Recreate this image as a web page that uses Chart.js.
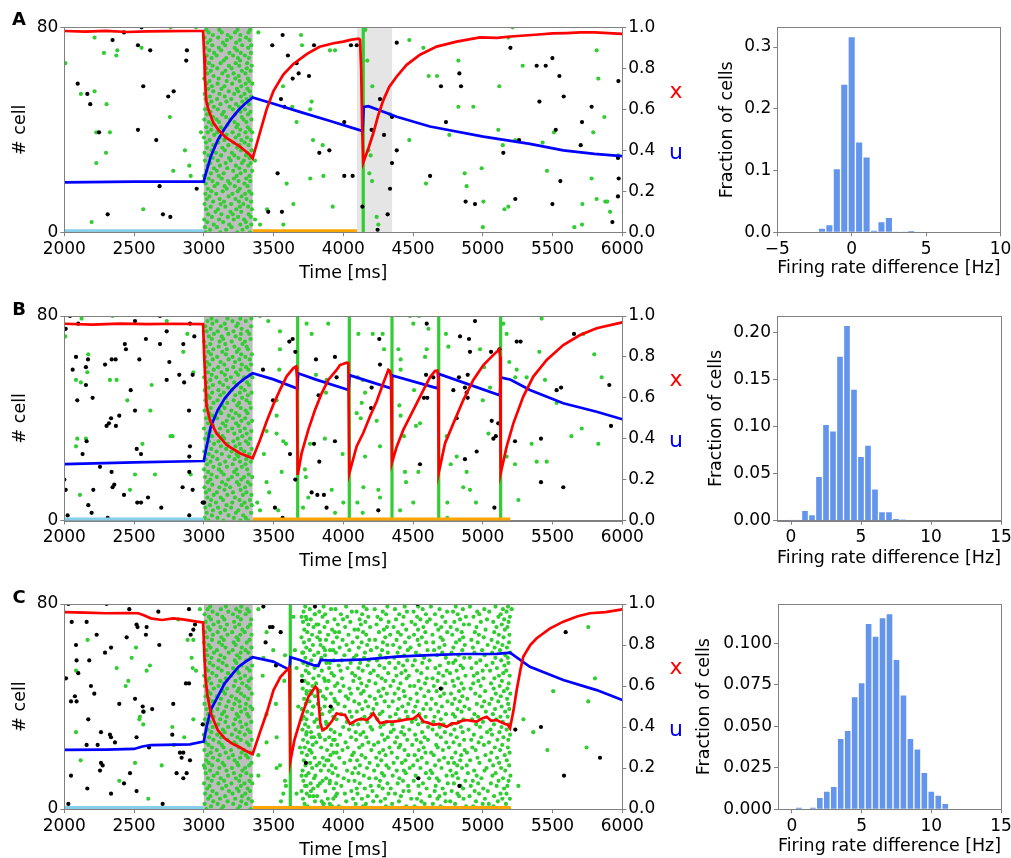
<!DOCTYPE html>
<html>
<head>
<meta charset="utf-8">
<script src="https://cdn.jsdelivr.net/npm/chart.js@4.4.1/dist/chart.umd.min.js"></script>
<style>
  body { margin: 0; background: #fff; }
  #fig { position: relative; width: 1011px; height: 858px; overflow: hidden; background: #fff; }
  #fig canvas { position: absolute; }
</style>
</head>
<body>
<div id="fig">
  <canvas id="rasterA" width="700" height="290" style="left:0;top:0"></canvas>
  <canvas id="rasterB" width="700" height="290" style="left:0;top:290px"></canvas>
  <canvas id="rasterC" width="700" height="290" style="left:0;top:578px"></canvas>
  <canvas id="histA" width="380" height="290" style="left:650px;top:0"></canvas>
  <canvas id="histB" width="380" height="290" style="left:650px;top:290px"></canvas>
  <canvas id="histC" width="380" height="290" style="left:650px;top:578px"></canvas>
</div>
<script>
// ---- shared ticks ----
const timeTicks = [2000, 2500, 3000, 3500, 4000, 4500, 5000, 5500, 6000];
const cellTicks = [0, 80];
const varTicks = [0, 0.2, 0.4, 0.6, 0.8, 1.0];

// ---- panel A ----
const stimSpanA = [3000, 3350];
const refractSpanA = [4098, 4350];
const baselineBarA = [2000, 3000];
const delayBarA = [3350, 4098];
const burstTimesA = [4143];
const xTraceA = [[2000,0.982],[2150,0.979],[2300,0.983],[2450,0.977],[2600,0.98],[2750,0.981],[2900,0.982],[2995,0.982],[3003,0.86],[3008,0.75],[3018,0.64],[3032,0.60],[3068,0.535],[3104,0.50],[3157,0.463],[3210,0.44],[3259,0.418],[3300,0.395],[3331,0.377],[3350,0.361],[3400,0.48],[3450,0.60],[3500,0.69],[3570,0.77],[3640,0.82],[3740,0.87],[3830,0.905],[3930,0.922],[4000,0.93],[4060,0.94],[4110,0.945],[4120,0.94],[4128,0.80],[4136,0.5],[4143,0.34],[4180,0.41],[4215,0.483],[4250,0.57],[4287,0.645],[4330,0.71],[4383,0.76],[4454,0.817],[4550,0.866],[4669,0.906],[4812,0.93],[4980,0.951],[5100,0.948],[5200,0.955],[5300,0.96],[5400,0.965],[5500,0.97],[5600,0.972],[5700,0.975],[5800,0.975],[5900,0.972],[6000,0.968]];
const uTraceA = [[2000,0.244],[2500,0.247],[2995,0.247],[3000,0.25],[3020,0.30],[3050,0.37],[3100,0.45],[3150,0.507],[3200,0.556],[3250,0.597],[3300,0.63],[3350,0.658],[3500,0.627],[3700,0.585],[3900,0.544],[4100,0.502],[4138,0.494],[4146,0.612],[4180,0.615],[4383,0.564],[4621,0.516],[5004,0.467],[5338,0.431],[5577,0.40],[5800,0.383],[6000,0.372]];
const blackSpikesA = [[2554,80],[2428,78],[2346,75],[2528,73],[2616,71],[2874,67],[2879,71],[2096,58],[2165,54],[2186,50],[2566,57],[2745,53],[2784,55],[2249,39],[2528,40],[2659,36],[2683,18],[2949,17],[2311,7],[2707,7],[2760,6],[3565,77],[3491,73],[3603,69],[3665,66],[3637,60],[3680,62],[3754,61],[3553,52],[3577,49],[3790,73],[3828,31],[3900,32],[3529,23],[3462,8],[3560,8],[4007,43],[4055,73],[4096,73],[4007,22],[4067,22],[4137,10],[4263,52],[4203,40],[4292,38],[4349,45],[4383,32],[4349,27],[4335,17],[4318,7],[4246,1],[4383,74],[4736,43],[4700,57],[4832,62],[4844,57],[4622,22],[4877,12],[4944,11],[5198,72],[5233,13],[5260,36],[5386,65],[5451,65],[5499,68],[5406,51],[5549,61],[5580,53],[5523,40],[5556,20],[5499,11],[5147,31],[5711,43],[5780,49],[5702,34],[5972,59],[5969,29],[5974,21],[5969,14],[5929,4]];
const greenSpikesA = [[2007,66],[2217,76],[2284,70],[2380,71],[2373,69],[2119,54],[2217,55],[2303,50],[2229,39],[2327,39],[2299,31],[2229,27],[2566,9],[2196,4],[2554,72],[2757,45],[2865,32],[2896,26],[2906,22],[2781,24],[2762,80],[2944,80],[2980,39],[3391,78],[3697,77],[3704,73],[3904,71],[3568,57],[3773,51],[3763,48],[3634,49],[3665,43],[3783,36],[3852,34],[3857,22],[3763,21],[3594,19],[3642,11],[3924,10],[3367,5],[3403,3],[3570,3],[3367,28],[3453,9],[3941,71],[4158,79],[4172,67],[4208,57],[4180,32],[4196,30],[4187,23],[4206,20],[4239,6],[4251,3],[4335,46],[4473,75],[4473,36],[4574,72],[4612,61],[4672,61],[4593,19],[4825,67],[4825,49],[4760,38],[4870,23],[4884,18],[4992,25],[4932,49],[5004,12],[5000,2],[5118,57],[5111,40],[5143,34],[5183,10],[5155,9],[5286,65],[5233,36],[5429,35],[5460,24],[5510,39],[5656,2],[5711,3],[5714,11],[5780,21],[5792,39],[5816,71],[5828,60],[5871,45],[5816,13],[5878,12],[5892,12],[5912,8],[5971,30],[5214,80],[5183,76]];
// spike times of each cell (row index = cell) during the stimulus
const stimTrainsA = [
[3012,3118,3240,3331],[3045,3160,3277],[3008,3094,3199,3310],[3071,3183,3262,3340],[3025,3139,3301],
[3003,3110,3215,3289],[3058,3172,3246,3337],[3031,3126,3208,3322],[3084,3191,3268],[3016,3102,3233,3345],
[3049,3154,3259,3318],[3006,3121,3196,3283],[3067,3145,3252,3339],[3022,3113,3227,3306],[3040,3178,3271],
[3011,3089,3205,3297,3342],[3054,3136,3243,3326],[3029,3165,3258],[3077,3149,3222,3314],[3014,3098,3187,3291],
[3062,3174,3249,3333],[3035,3128,3216,3304],[3002,3107,3236,3327],[3051,3142,3264],[3019,3093,3211,3296,3346],
[3073,3168,3255],[3027,3116,3230,3319],[3046,3157,3274,3336],[3009,3101,3193,3287],[3064,3181,3248,3328],
[3033,3124,3219,3302],[3005,3087,3201,3312],[3057,3151,3267,3343],[3024,3133,3239],[3069,3176,3256,3321],
[3015,3104,3213,3293],[3042,3147,3270,3338],[3001,3115,3228,3309],[3075,3163,3251],[3028,3096,3206,3299,3347],
[3053,3141,3261,3330],[3018,3122,3234,3315],[3060,3170,3244],[3036,3109,3220,3305],[3004,3091,3189,3285,3341],
[3066,3159,3272],[3023,3131,3225,3317],[3048,3144,3263,3334],[3010,3100,3209,3295],[3072,3185,3253],
[3030,3119,3231,3324],[3055,3162,3276],[3013,3095,3197,3307],[3044,3150,3266,3339],[3007,3112,3218,3292],
[3068,3179,3247,3329],[3032,3127,3237,3313],[3059,3148,3269],[3020,3099,3203,3300,3348],[3041,3164,3257,3325],
[3003,3106,3226,3316],[3070,3173,3250],[3026,3132,3214,3298],[3050,3155,3273,3335],[3016,3097,3200,3308],
[3063,3180,3254,3344],[3037,3120,3229,3311],[3008,3143,3260],[3056,3161,3245,3323],[3021,3092,3210,3294],
[3074,3184,3265,3337],[3039,3125,3238],[3012,3108,3221,3318],[3061,3153,3275,3340],[3027,3137,3232],
[3047,3166,3258,3327],[3006,3103,3194,3303],[3065,3171,3262],[3034,3129,3224,3320],[3019,3111,3242,3332]];

// ---- panel B ----
const stimSpanB = [3000, 3350];
const baselineBarB = [2000, 3000];
const delayBarB = [3350, 5197];
const burstTimesB = [3673, 4043, 4349, 4684, 5128];
const xTraceB = [[2000,0.962],[2200,0.958],[2400,0.963],[2600,0.96],[2800,0.962],[2995,0.96],[3003,0.80],[3010,0.70],[3020,0.56],[3044,0.49],[3092,0.426],[3164,0.369],[3259,0.329],[3350,0.304],[3403,0.394],[3450,0.484],[3498,0.566],[3546,0.639],[3594,0.705],[3642,0.745],[3661,0.753],[3668,0.70],[3673,0.222],[3701,0.328],[3749,0.443],[3797,0.54],[3845,0.622],[3892,0.687],[3952,0.736],[3976,0.76],[4024,0.772],[4036,0.77],[4043,0.231],[4096,0.363],[4143,0.428],[4191,0.509],[4239,0.582],[4287,0.672],[4323,0.737],[4335,0.731],[4342,0.70],[4349,0.283],[4383,0.361],[4430,0.443],[4478,0.508],[4526,0.573],[4574,0.638],[4621,0.70],[4657,0.731],[4674,0.733],[4680,0.70],[4684,0.233],[4729,0.377],[4789,0.475],[4860,0.589],[4932,0.687],[5004,0.76],[5076,0.81],[5119,0.837],[5124,0.80],[5128,0.231],[5171,0.361],[5219,0.475],[5290,0.606],[5362,0.704],[5458,0.785],[5577,0.858],[5697,0.907],[5816,0.94],[6000,0.969]];
const uTraceB = [[2000,0.276],[2500,0.284],[2995,0.291],[3000,0.292],[3020,0.361],[3050,0.459],[3100,0.54],[3150,0.597],[3200,0.638],[3250,0.671],[3300,0.698],[3350,0.72],[3500,0.69],[3670,0.645],[3676,0.72],[3800,0.69],[4038,0.638],[4044,0.711],[4343,0.646],[4350,0.709],[4678,0.646],[4685,0.717],[5122,0.612],[5129,0.70],[5200,0.688],[5338,0.638],[5577,0.573],[5816,0.532],[6000,0.495]];
const blackSpikesB = [[2024,2],[2010,75],[2041,80],[2686,80],[2100,77],[2507,78],[2442,67],[2434,69],[2585,71],[2686,69],[2734,74],[2853,69],[2901,77],[2932,72],[2084,64],[2060,59],[2155,60],[2170,63],[2155,53],[2093,47],[2203,48],[2292,61],[2340,63],[2368,63],[2476,51],[2538,63],[2753,62],[2734,55],[2824,57],[2859,54],[2920,57],[2335,40],[2303,37],[2370,37],[2394,41],[2320,38],[2507,43],[2894,43],[2131,26],[2160,31],[2550,26],[2519,28],[2901,29],[2896,25],[2256,21],[2339,19],[2358,14],[2346,13],[2208,12],[2010,12],[2428,10],[2523,7],[2550,7],[2600,9],[2695,5],[2848,13],[2920,12],[2896,19],[2992,7],[3001,7],[2172,6],[2196,3],[2311,1],[2896,2],[2000,16],[3424,59],[3496,47],[3613,70],[3637,71],[3656,66],[3618,26],[3656,16],[3510,5],[3565,1],[3804,63],[3823,49],[3790,30],[3828,23],[3773,11],[3814,10],[3861,10],[3880,5],[3940,64],[3940,31],[3952,56],[4258,71],[4263,61],[4203,52],[4199,44],[4598,77],[4593,57],[4578,48],[4602,48],[4550,22],[4645,56],[4837,72],[4901,71],[4908,66],[4892,57],[4829,56],[4789,51],[4813,40],[4884,50],[4892,48],[4872,52],[4956,27],[4872,24],[4944,78],[5059,66],[5119,67],[5064,39],[5111,38],[5076,32],[5093,33],[5083,5],[5243,70],[5271,70],[5231,31],[5654,73],[5529,51],[5561,52],[5417,32],[5417,15],[5577,13],[5907,53],[5919,37],[4251,4]];
const greenSpikesB = [[2007,72],[2172,65],[2165,58],[2119,54],[2084,55],[2327,55],[2375,55],[2626,53],[2452,47],[2617,43],[2155,32],[2084,29],[2093,32],[2560,30],[2762,33],[2776,33],[2112,10],[2507,18],[2471,12],[2650,18],[2906,18],[2734,78],[2882,73],[2853,66],[2124,79],[2346,80],[2925,58],[3403,80],[3462,78],[3546,67],[3541,59],[3522,47],[3450,35],[3522,41],[3522,34],[3431,26],[3450,15],[3469,11],[3383,7],[3403,4],[3570,31],[3589,30],[3558,19],[3534,4],[3725,20],[3732,17],[3749,9],[3711,5],[3761,30],[3868,32],[3880,55],[3876,50],[3892,77],[3804,57],[3737,77],[3773,73],[3546,74],[4108,73],[4103,56],[4139,55],[4096,42],[4125,40],[4132,46],[4156,50],[4156,25],[4144,13],[4101,7],[4139,3],[3995,26],[4000,7],[3941,3],[3917,12],[4211,73],[4282,73],[4292,67],[4239,39],[4263,29],[4251,12],[4263,9],[4395,67],[4411,63],[4411,59],[4402,45],[4411,41],[4435,33],[4442,19],[4450,15],[4407,4],[4502,7],[4538,19],[4521,37],[4550,38],[4507,51],[4598,67],[4586,64],[4610,75],[4502,77],[4545,80],[4478,80],[4736,73],[4753,68],[4741,33],[4770,22],[4746,7],[4746,1],[4813,25],[4860,13],[4884,19],[4951,7],[4908,12],[4980,67],[5009,60],[5052,52],[5040,34],[5000,47],[5147,77],[5171,73],[5190,62],[5243,59],[5233,56],[5171,25],[5231,22],[5255,8],[5314,56],[5350,30],[5386,23],[5405,66],[5446,55],[5458,23],[5529,46],[5635,33],[5709,36],[5828,30],[5799,65],[5852,56],[5721,73],[5422,79]];
const stimTrainsB = [
[3033,3141,3262,3318],[3007,3098,3215,3301],[3058,3177,3283],[3021,3119,3230,3339],[3066,3152,3247],
[3011,3102,3196,3309],[3044,3163,3271,3344],[3003,3087,3204,3292],[3052,3138,3256,3330],[3026,3121,3223],
[3071,3169,3280,3341],[3015,3094,3209,3305],[3039,3148,3264],[3005,3112,3189,3296],[3061,3158,3252,3334],
[3028,3131,3238,3315],[3047,3175,3269],[3009,3093,3201,3288,3347],[3056,3144,3241,3322],[3031,3126,3217],
[3002,3108,3234,3311],[3069,3166,3273],[3024,3115,3207,3299],[3048,3153,3259,3337],[3013,3097,3221,3304],
[3063,3182,3248],[3035,3129,3235,3325],[3004,3091,3199,3290],[3054,3160,3266,3343],[3019,3123,3227],
[3074,3171,3257,3319],[3037,3106,3212,3302],[3010,3146,3243,3331],[3059,3134,3276],[3025,3101,3219,3308],
[3045,3172,3261,3340],[3001,3117,3203,3294],[3067,3155,3250],[3030,3136,3232,3321],[3053,3164,3270,3346],
[3017,3095,3208,3297],[3062,3179,3254],[3038,3124,3229,3313],[3006,3111,3198,3300],[3050,3149,3265,3336],
[3022,3132,3240],[3070,3168,3253,3328],[3012,3099,3214,3306],[3043,3157,3274],[3027,3118,3226,3316],
[3060,3143,3258,3342],[3008,3105,3202,3293],[3034,3174,3267],[3065,3139,3236,3324],[3018,3114,3218,3310],
[3047,3162,3279],[3003,3090,3195,3289,3348],[3057,3151,3246,3333],[3029,3127,3231],[3072,3167,3263,3320],
[3014,3103,3211,3303],[3040,3147,3272,3338],[3023,3120,3224],[3064,3178,3255,3329],[3009,3096,3206,3298],
[3051,3159,3268,3344],[3032,3133,3237],[3068,3165,3251,3317],[3016,3107,3220,3307],[3046,3154,3277],
[3002,3113,3200,3295],[3058,3140,3260,3335],[3036,3128,3228],[3073,3176,3266,3326],[3020,3100,3213,3312],
[3049,3161,3271],[3011,3122,3233,3339],[3062,3150,3244],[3026,3092,3205,3301],[3055,3170,3262,3341]];

// ---- panel C ----
const stimSpanC = [3000, 3350];
const baselineBarC = [2000, 3000];
const delayBarC = [3350, 5200];
const burstTimesC = [3620];
const xTraceC = [[2000,0.96],[2150,0.958],[2300,0.955],[2450,0.956],[2530,0.955],[2570,0.945],[2620,0.93],[2700,0.922],[2780,0.93],[2850,0.925],[2950,0.914],[2995,0.91],[3004,0.75],[3012,0.64],[3025,0.56],[3050,0.467],[3100,0.385],[3150,0.345],[3200,0.32],[3250,0.304],[3300,0.284],[3350,0.268],[3400,0.369],[3450,0.467],[3500,0.58],[3550,0.645],[3600,0.681],[3612,0.69],[3616,0.5],[3620,0.231],[3650,0.337],[3700,0.45],[3750,0.548],[3800,0.597],[3815,0.585],[3835,0.42],[3850,0.385],[3880,0.395],[3920,0.43],[3952,0.467],[3985,0.46],[4012,0.459],[4048,0.415],[4096,0.434],[4130,0.44],[4167,0.434],[4195,0.45],[4215,0.467],[4240,0.44],[4263,0.418],[4310,0.426],[4359,0.426],[4400,0.43],[4454,0.437],[4500,0.44],[4538,0.459],[4574,0.426],[4610,0.42],[4645,0.41],[4690,0.415],[4741,0.401],[4780,0.418],[4813,0.418],[4850,0.43],[4884,0.434],[4920,0.43],[4956,0.426],[4990,0.44],[5028,0.45],[5060,0.43],[5099,0.434],[5147,0.418],[5180,0.41],[5195,0.394],[5220,0.48],[5243,0.58],[5270,0.68],[5290,0.743],[5340,0.80],[5386,0.833],[5480,0.88],[5577,0.914],[5680,0.94],[5768,0.955],[5880,0.96],[6000,0.974]];
const uTraceC = [[2000,0.288],[2300,0.29],[2500,0.293],[2560,0.305],[2620,0.312],[2900,0.315],[2990,0.328],[3000,0.33],[3020,0.401],[3050,0.483],[3100,0.548],[3150,0.613],[3200,0.654],[3250,0.694],[3300,0.719],[3350,0.74],[3498,0.719],[3594,0.686],[3614,0.68],[3621,0.74],[3689,0.727],[3785,0.702],[3821,0.698],[3838,0.727],[3928,0.724],[4163,0.73],[4383,0.743],[4621,0.751],[4860,0.756],[5099,0.757],[5195,0.763],[5338,0.694],[5577,0.629],[5816,0.58],[6000,0.532]];
const blackSpikesC = [[2029,80],[2303,80],[2466,78],[2674,77],[2894,78],[2053,73],[2160,73],[2518,72],[2525,71],[2590,71],[2585,68],[2447,67],[2681,64],[2925,70],[2937,72],[2906,68],[2084,64],[2088,58],[2100,53],[2179,58],[2232,68],[2292,61],[2335,63],[2012,51],[2191,48],[2215,45],[2076,44],[2088,42],[2048,42],[2172,35],[2263,30],[2327,29],[2335,28],[2363,26],[2160,25],[2239,25],[2394,41],[2507,43],[2562,40],[2566,38],[2630,39],[2781,41],[2774,29],[2518,28],[2607,24],[2872,49],[2894,49],[2992,33],[2829,22],[2853,22],[2841,20],[2901,19],[2853,12],[2805,14],[2877,14],[2471,14],[2428,10],[2263,18],[2256,15],[2275,17],[2048,13],[2165,8],[2335,6],[2518,7],[2705,2],[2029,2],[3427,79],[3474,71],[3493,71],[3551,69],[3443,65],[3517,56],[3704,50],[3909,40],[3732,18],[3797,79],[4531,80],[4698,47],[4538,12],[4832,9],[5233,31],[5417,32],[5594,69],[5840,20],[5582,13]];
const greenSpikesC = [[2084,54],[2167,66],[2375,55],[2459,50],[2440,48],[2590,54],[2614,56],[2920,55],[2944,54],[2774,32],[2786,25],[2860,28],[2925,66],[2913,59],[2514,63],[2542,36],[2566,33],[2507,18],[2394,11],[2602,4],[2117,19],[2084,30],[2972,78],[2884,66],[2817,74],[3001,17],[2698,17],[2925,35],[2483,59],[2571,38],[2538,35],[3391,78],[3427,59],[3450,69],[3498,62],[3422,52],[3517,41],[3522,28],[3450,26],[3391,21],[3391,13],[3522,16],[3546,17],[3582,11],[3589,9],[3553,3],[3570,6],[3582,60],[3577,50],[3450,37],[3642,75],[3701,75],[3737,74],[3797,76],[3821,72],[3653,62],[3713,61],[3665,55],[3737,46],[3773,45],[3785,40],[3833,46],[3869,50],[3904,57],[3928,62],[3677,40],[3701,35],[3737,30],[3773,28],[3689,24],[3761,23],[3833,28],[3880,33],[3928,27],[3952,22],[3880,19],[3904,11],[3833,10],[3737,9],[3701,13],[3785,5],[3856,2],[3928,4],[3665,6],[3809,17],[3869,62],[3940,69],[3833,66],[5291,35],[5362,30],[5463,23],[5505,46],[5756,71],[5804,51],[5756,42],[5744,24],[5255,9],[5207,78]];
const stimTrainsC = [
[3019,3127,3244,3336],[3052,3140,3258],[3006,3099,3211,3303],[3068,3171,3269,3345],[3031,3116,3225,3320],
[3047,3153,3274],[3010,3092,3206,3298],[3063,3180,3250,3331],[3024,3131,3237,3314],[3041,3160,3266],
[3002,3105,3198,3292,3347],[3056,3145,3254,3327],[3029,3121,3230],[3071,3174,3262,3339],[3014,3097,3216,3306],
[3045,3163,3277],[3008,3111,3202,3296],[3060,3148,3247,3325],[3035,3134,3239,3342],[3017,3101,3221],
[3066,3178,3260,3317],[3025,3114,3208,3301],[3050,3157,3271,3337],[3004,3093,3195,3289],[3058,3142,3252],
[3033,3129,3234,3324],[3012,3109,3218,3309],[3069,3169,3265,3343],[3038,3125,3241],[3001,3096,3201,3294],
[3054,3150,3256,3332],[3027,3137,3228,3315],[3064,3175,3273],[3016,3103,3213,3304],[3043,3155,3261,3340],
[3009,3118,3226],[3070,3165,3249,3322],[3032,3130,3236,3311],[3057,3146,3268],[3020,3098,3204,3297,3348],
[3046,3161,3259,3334],[3005,3112,3219,3302],[3062,3177,3255],[3036,3123,3231,3318],[3013,3094,3199,3291],
[3049,3152,3267,3344],[3028,3138,3242],[3072,3167,3253,3326],[3007,3106,3215,3307],[3053,3144,3275],
[3022,3117,3227,3321],[3039,3158,3263,3338],[3003,3091,3197,3295],[3061,3173,3251],[3030,3128,3240,3329],
[3015,3102,3210,3310],[3067,3164,3270,3346],[3042,3135,3233],[3011,3107,3222,3305],[3055,3149,3257,3335],
[3026,3120,3238],[3073,3179,3264,3319],[3018,3095,3207,3299],[3048,3156,3272,3341],[3034,3132,3229],
[3002,3110,3214,3308],[3059,3143,3248,3328],[3023,3126,3235],[3065,3170,3261,3342],[3009,3100,3203,3293],
[3044,3151,3276],[3031,3119,3224,3316],[3070,3166,3254,3333],[3014,3104,3217],[3051,3147,3266,3339],
[3037,3133,3243],[3006,3097,3209,3300],[3063,3176,3258,3324],[3027,3122,3232,3312],[3046,3159,3268]];
// sustained activity after the second burst in C (row index = cell)
const sustainedTrainsC = [
[3706,3781,3990,4052,4230,4377,4419,4608,4745,4790,4982,5120,5188],[3744,3920,3968,4141,4305,4452,4511,4697,4880,4931,5077],
[3722,3860,3903,4089,4162,4350,4583,4642,4801,4999,5043,5166],[3797,3845,4021,4215,4268,4399,4560,4733,4766,4951,5108],
[3711,3889,4070,4133,4299,4487,4528,4675,4862,5015,5140,5194],[3759,3812,3944,4176,4240,4413,4620,4689,4830,4905,5081],
[3738,3955,4011,4102,4324,4371,4548,4729,4818,4973,5127,5170],[3701,3768,3871,4058,4209,4431,4470,4655,4777,4942,5036],
[3785,3932,4096,4154,4282,4340,4597,4712,4859,5003,5152],[3726,3818,3986,4197,4255,4465,4539,4662,4841,4914,5099,5176],
[3766,3902,3949,4118,4317,4390,4571,4749,4793,4967,5058],[3714,3852,4038,4081,4263,4428,4505,4685,4875,4928,5113,5185],
[3790,3877,4003,4186,4234,4402,4616,4671,4822,4990,5145],[3733,3800,3961,4147,4292,4354,4519,4740,4783,4956,5069,5198],
[3751,3923,4065,4109,4277,4448,4592,4637,4809,4893,5092],[3708,3839,3896,4027,4221,4383,4434,4625,4768,4938,5012,5161],
[3777,3945,4084,4170,4326,4476,4553,4704,4851,5027,5131],[3729,3864,3918,4119,4247,4309,4501,4658,4817,4885,5074,5189],
[3762,3829,4007,4188,4361,4420,4599,4752,4794,4976,5117],[3717,3893,4049,4099,4272,4445,4532,4686,4838,4909,5050,5172],
[3795,3853,3971,4158,4236,4387,4562,4723,4778,4962,5102],[3740,3908,4063,4131,4303,4466,4512,4648,4845,5019,5157],
[3703,3773,3930,4076,4259,4347,4589,4630,4804,4887,5061,5192],[3756,3884,3994,4201,4285,4439,4541,4714,4870,4948,5124],
[3724,3841,4032,4114,4331,4398,4576,4677,4757,4925,5086,5180],[3781,3915,3957,4137,4220,4409,4494,4666,4833,5008,5139],
[3745,3806,4016,4180,4250,4371,4556,4738,4790,4970,5044],[3712,3869,3939,4092,4296,4458,4525,4607,4866,4917,5105,5183],
[3789,3899,4056,4165,4319,4385,4583,4699,4813,4989,5148],[3734,3826,3977,4123,4278,4437,4515,4671,4771,4936,5066,5195],
[3769,3937,4089,4144,4341,4415,4565,4728,4856,5031,5119],[3707,3858,3910,4041,4207,4362,4473,4640,4797,4898,5055,5171],
[3750,3820,3999,4195,4266,4427,4608,4691,4843,4980,5134],[3726,3890,4068,4107,4289,4350,4537,4719,4775,4952,5080,5187],
[3793,3875,4025,4172,4310,4492,4567,4646,4827,5001,5143],[3736,3810,3951,4126,4244,4403,4519,4700,4861,4923,5096],
[3716,3928,4060,4152,4335,4461,4590,4654,4801,4966,5126,5178],[3774,3849,3984,4202,4261,4376,4545,4736,4786,4940,5072],
[3741,3902,4046,4097,4281,4449,4503,4681,4848,5022,5160],[3702,3835,3922,4136,4215,4391,4573,4626,4818,4903,5088,5190],
[3784,3866,4010,4178,4326,4423,4517,4707,4869,4994,5135],[3730,3818,3963,4113,4239,4466,4595,4664,4780,4957,5047,5182],
[3758,3943,4079,4160,4297,4354,4532,4747,4835,5010,5111],[3719,3873,3936,4035,4226,4400,4481,4633,4799,4889,5064,5174],
[3798,3855,4018,4190,4270,4441,4581,4695,4853,4979,5129],[3737,3912,4055,4127,4312,4368,4526,4722,4772,4946,5093,5197],
[3765,3830,3975,4146,4253,4433,4611,4669,4830,5017,5151],[3709,3882,4044,4104,4287,4395,4555,4706,4863,4913,5078,5176],
[3779,3940,4001,4168,4338,4478,4509,4649,4795,4985,5121],[3747,3805,3958,4129,4231,4410,4586,4731,4847,4931,5059,5186],
[3723,3895,4072,4185,4302,4359,4540,4676,4784,4968,5137],[3786,3862,3991,4116,4275,4454,4598,4640,4823,5005,5083],
[3704,3824,3933,4085,4248,4381,4470,4716,4876,4935,5116,5193],[3753,3916,4064,4194,4322,4417,4559,4683,4765,4960,5147],
[3731,3846,3981,4139,4218,4446,4528,4741,4812,4999,5052,5168],[3794,3898,4030,4109,4294,4373,4602,4660,4858,4919,5101],
[3743,3812,3967,4175,4259,4429,4498,4692,4841,5026,5155],[3713,3879,4052,4121,4330,4397,4566,4754,4788,4953,5070,5184],
[3770,3931,3989,4183,4241,4458,4513,4618,4804,4982,5132],[3728,3843,4075,4149,4306,4366,4579,4735,4867,4907,5090,5179],
[3791,3869,4008,4094,4264,4436,4549,4672,4826,5013,5162],[3706,3820,3946,4155,4319,4389,4521,4709,4776,4940,5067,5196],
[3761,3905,4043,4198,4278,4462,4604,4651,4853,4995,5123],[3735,3858,3974,4111,4240,4405,4482,4688,4789,4929,5085,5173],
[3782,3837,4023,4171,4315,4357,4544,4726,4871,5035,5141],[3718,3926,4067,4132,4284,4443,4594,4645,4808,4964,5107,5188],
[3755,3876,3995,4187,4228,4382,4533,4713,4834,4918,5063],[3700,3814,3954,4100,4301,4471,4563,4697,4859,5007,5149],
[3776,3891,4037,4164,4336,4412,4507,4639,4781,4972,5115,5191],[3742,3831,3970,4142,4256,4392,4588,4745,4849,4943,5082],
[3720,3920,4080,4106,4291,4451,4536,4681,4815,5020,5158],[3787,3865,4013,4192,4313,4361,4574,4702,4770,4955,5098,5177],
[3749,3808,3961,4126,4238,4425,4515,4663,4864,4901,5136],[3711,3886,4050,4158,4325,4489,4600,4732,4796,4986,5075,5185],
[3767,3937,3998,4117,4269,4378,4552,4620,4837,5030,5153],[3732,3851,4028,4179,4245,4432,4529,4709,4879,4933,5112,5194],
[3796,3870,3983,4135,4307,4401,4592,4657,4820,4975,5128],[3715,3828,4061,4095,4283,4456,4504,4744,4787,4960,5046,5170],
[3760,3912,3944,4167,4225,4370,4569,4690,4857,5011,5144],[3727,3859,4020,4145,4316,4440,4537,4628,4806,4908,5091,5181]];

// ---- histograms (bin centres, fraction of cells) ----
const histCentersA = [-2.0,-1.5,-1.0,-0.5,0.0,0.5,1.0,1.5,2.0,2.5,3.0,3.5,4.0];
const histFracA = [0.007,0.0124,0.103,0.240,0.317,0.1465,0.1223,0.0032,0.0172,0.0242,0.0008,0.0008,0.002];
const histXTicksA = [-5, 0, 5, 10];
const histYTicksA = [0, 0.1, 0.2, 0.3];
const histCentersB = [0.0,0.5,1.0,1.5,2.0,2.5,3.0,3.5,4.0,4.5,5.0,5.5,6.0,6.5,7.0,7.5,8.0];
const histFracB = [0.0007,0.0007,0.011,0.0064,0.0472,0.1025,0.0957,0.1752,0.2078,0.1401,0.0684,0.0805,0.034,0.0096,0.0096,0.0025,0.0011];
const histXTicksB = [0, 5, 10, 15];
const histYTicksB = [0, 0.05, 0.10, 0.15, 0.20];
const histCentersC = [0.5,1.0,1.5,2.0,2.5,3.0,3.5,4.0,4.5,5.0,5.5,6.0,6.5,7.0,7.5,8.0,8.5,9.0,9.5,10.0,10.5,11.0];
const histFracC = [0.0012,0,0.0012,0.0072,0.011,0.0139,0.0428,0.0476,0.0679,0.0763,0.112,0.1044,0.1155,0.118,0.0904,0.069,0.0428,0.0365,0.0223,0.011,0.0086,0.0036];
const histXTicksC = [0, 5, 10, 15];
const histYTicksC = [0, 0.025, 0.05, 0.075, 0.1];

// ---- styling ----
const FAMILY = '"DejaVu Sans", "Liberation Sans", sans-serif';
const GRAY = '#808080';
const GREEN = '#32cd32';
const SKY = '#87ceeb';
const ORANGE = '#ffa500';
const BAR_BLUE = '#6495ed';
const DOT = 2.1;

Chart.defaults.font.family = FAMILY;
Chart.defaults.color = '#000';

const grid = { drawOnChartArea: false, drawTicks: true, tickLength: 4, color: GRAY, lineWidth: 1 };
const border = { display: true, color: GRAY, width: 1 };
const tickFont = { family: FAMILY, size: 17 };
const titleFont = { family: FAMILY, size: 17.5 };

function setTicks(values) {
  return scale => { scale.ticks = values.map(v => ({ value: v })); };
}
function pairsToXY(pairs) {
  return pairs.map(([x, y]) => ({ x, y }));
}
function trainsToXY(trains) {
  const pts = [];
  trains.forEach((times, cell) => times.forEach(t => pts.push({ x: t, y: cell })));
  return pts;
}
function minusSign(v) {
  return v < 0 ? '\u2212' + Math.abs(v) : String(v);
}

const shadePlugin = {
  id: 'shade',
  beforeDatasetsDraw(chart, args, opts) {
    const { ctx, chartArea: a, scales: { x } } = chart;
    ctx.save();
    for (const [span, color] of opts.spans || []) {
      const x0 = x.getPixelForValue(span[0]);
      const x1 = x.getPixelForValue(span[1]);
      ctx.fillStyle = color;
      ctx.fillRect(x0, a.top, x1 - x0, a.bottom - a.top);
    }
    ctx.restore();
  }
};

const framePlugin = {
  id: 'frame',
  afterDraw(chart) {
    const { ctx, chartArea: a } = chart;
    ctx.save();
    ctx.strokeStyle = GRAY;
    ctx.lineWidth = 1;
    ctx.strokeRect(Math.round(a.left) + 0.5, Math.round(a.top) + 0.5,
      Math.round(a.right - a.left), Math.round(a.bottom - a.top));
    ctx.restore();
  }
};

const annotatePlugin = {
  id: 'annotate',
  afterDraw(chart, args, opts) {
    const { ctx } = chart;
    ctx.save();
    ctx.textAlign = 'center';
    ctx.textBaseline = 'middle';
    if (opts.letter) {
      ctx.font = 'bold 18px ' + FAMILY;
      ctx.fillStyle = '#000';
      ctx.fillText(opts.letter, 19, opts.letterY);
    }
    if (opts.varLabels) {
      const yv = chart.scales.yVar;
      ctx.font = '22px ' + FAMILY;
      ctx.fillStyle = '#ff0000';
      ctx.fillText('x', 676, yv.getPixelForValue(0.685));
      ctx.fillStyle = '#0000ff';
      ctx.fillText('u', 676, yv.getPixelForValue(0.385));
    }
    ctx.restore();
  }
};

function trace(pairs, color) {
  return { data: pairsToXY(pairs), yAxisID: 'yVar', showLine: true, borderColor: color,
    borderWidth: 2.7, pointRadius: 0, tension: 0, order: 0 };
}
function bottomBar(span, color) {
  return { data: [{ x: span[0], y: 0 }, { x: span[1], y: 0 }], yAxisID: 'yCell', showLine: true,
    borderColor: color, borderWidth: 6, pointRadius: 0, clip: 0, order: 1 };
}
function burstLine(t) {
  return { data: [{ x: t, y: 0 }, { x: t, y: 80 }], yAxisID: 'yCell', showLine: true,
    borderColor: GREEN, borderWidth: 3.2, pointRadius: 0, clip: 0, order: 3 };
}
function dots(points, color, order) {
  return { data: points, yAxisID: 'yCell', showLine: false, pointRadius: DOT,
    pointBackgroundColor: color, pointBorderWidth: 0, clip: 0, order };
}

function buildRaster(id, p) {
  let greenPts = pairsToXY(p.green);
  for (const trains of p.trains) greenPts = greenPts.concat(trainsToXY(trains));
  const datasets = [
    trace(p.xTrace, '#ff0000'),
    trace(p.uTrace, '#0000ff'),
    bottomBar(p.baseline, SKY),
    bottomBar(p.delay, ORANGE),
    dots(pairsToXY(p.black), '#000000', 2),
    ...p.bursts.map(burstLine),
    dots(greenPts, GREEN, 4)
  ];
  new Chart(document.getElementById(id), {
    type: 'scatter',
    data: { datasets },
    options: {
      responsive: false, animation: false, devicePixelRatio: 1,
      layout: { padding: p.pad },
      plugins: {
        legend: { display: false }, tooltip: { enabled: false },
        shade: { spans: p.spans },
        annotate: { letter: p.letter, letterY: 20, varLabels: true }
      },
      scales: {
        x: {
          type: 'linear', min: 2000, max: 6000,
          afterBuildTicks: setTicks(timeTicks),
          afterFit: s => { s.height = p.xh; },
          grid, border,
          ticks: { font: tickFont, color: '#000', padding: 3, autoSkip: false, maxRotation: 0, callback: v => String(v) },
          title: { display: true, text: 'Time [ms]', color: '#000', font: titleFont }
        },
        yCell: {
          type: 'linear', position: 'left', min: 0, max: 80,
          afterBuildTicks: setTicks(cellTicks),
          afterFit: s => { s.width = 58.1; },
          grid, border,
          ticks: { font: tickFont, color: '#000', padding: 2, callback: v => String(v) },
          title: { display: true, text: '# cell', color: '#000', font: titleFont }
        },
        yVar: {
          type: 'linear', position: 'right', min: 0, max: 1,
          afterBuildTicks: setTicks(varTicks),
          afterFit: s => { s.width = 77.7; },
          grid, border,
          ticks: { font: tickFont, color: '#000', padding: 2, callback: v => v.toFixed(1) }
        }
      }
    },
    plugins: [shadePlugin, framePlugin, annotatePlugin]
  });
}

function buildHist(id, p) {
  const data = p.centers.map((c, i) => ({ x: c, y: p.fracs[i] })).filter(d => d.y > 0);
  new Chart(document.getElementById(id), {
    type: 'bar',
    data: {
      datasets: [{
        data, backgroundColor: BAR_BLUE, borderColor: 'rgba(255,255,255,0.6)', borderWidth: 1,
        barPercentage: 1, categoryPercentage: 1, grouped: false
      }]
    },
    options: {
      responsive: false, animation: false, devicePixelRatio: 1,
      layout: { padding: p.pad },
      plugins: { legend: { display: false }, tooltip: { enabled: false } },
      scales: {
        x: {
          type: 'linear', min: p.xMin, max: p.xMax, offset: false,
          afterBuildTicks: setTicks(p.xTicks),
          afterFit: s => { s.height = p.xh; },
          grid: Object.assign({}, grid, { offset: false }), border,
          ticks: { font: tickFont, color: '#000', padding: 3, autoSkip: false, maxRotation: 0, callback: minusSign },
          title: { display: true, text: 'Firing rate difference [Hz]', color: '#000', font: titleFont }
        },
        y: {
          type: 'linear', min: 0, max: p.yMax,
          afterBuildTicks: setTicks(p.yTicks),
          afterFit: s => { s.width = p.yw; },
          grid, border,
          ticks: { font: tickFont, color: '#000', padding: 2, callback: v => v.toFixed(p.decimals) },
          title: { display: true, text: 'Fraction of cells', color: '#000', font: titleFont }
        }
      }
    },
    plugins: [framePlugin]
  });
}

buildRaster('rasterA', {
  letter: 'A', pad: { left: 6.2, right: 0, top: 27.3, bottom: 2 }, xh: 55.7,
  spans: [[stimSpanA, '#bebebe'], [refractSpanA, '#e5e5e5']],
  xTrace: xTraceA, uTrace: uTraceA, baseline: baselineBarA, delay: delayBarA,
  bursts: burstTimesA, black: blackSpikesA, green: greenSpikesA, trains: [stimTrainsA]
});
buildRaster('rasterB', {
  letter: 'B', pad: { left: 6.2, right: 0, top: 26, bottom: 3.8 }, xh: 55.7,
  spans: [[stimSpanB, '#bebebe']],
  xTrace: xTraceB, uTrace: uTraceB, baseline: baselineBarB, delay: delayBarB,
  bursts: burstTimesB, black: blackSpikesB, green: greenSpikesB, trains: [stimTrainsB]
});
buildRaster('rasterC', {
  letter: 'C', pad: { left: 6.2, right: 0, top: 26, bottom: 3.3 }, xh: 55.7,
  spans: [[stimSpanC, '#bebebe']],
  xTrace: xTraceC, uTrace: uTraceC, baseline: baselineBarC, delay: delayBarC,
  bursts: burstTimesC, black: blackSpikesC, green: greenSpikesC, trains: [stimTrainsC, sustainedTrainsC]
});

buildHist('histA', {
  centers: histCentersA, fracs: histFracA, xMin: -5, xMax: 10, yMax: 0.332,
  xTicks: histXTicksA, yTicks: histYTicksA, decimals: 1,
  pad: { left: 62.8, right: 29.5, top: 27.3, bottom: 7.5 }, yw: 64.5, xh: 50.2
});
buildHist('histB', {
  centers: histCentersB, fracs: histFracB, xMin: -1, xMax: 15, yMax: 0.2178,
  xTicks: histXTicksB, yTicks: histYTicksB, decimals: 2,
  pad: { left: 52.2, right: 29, top: 26, bottom: 7.5 }, yw: 74.8, xh: 51.8
});
buildHist('histC', {
  centers: histCentersC, fracs: histFracC, xMin: -1, xMax: 15, yMax: 0.1237,
  xTicks: histXTicksC, yTicks: histYTicksC, decimals: 3,
  pad: { left: 39.8, right: 29, top: 26, bottom: 7.2 }, yw: 88.2, xh: 51.5
});
</script>
</body>
</html>
